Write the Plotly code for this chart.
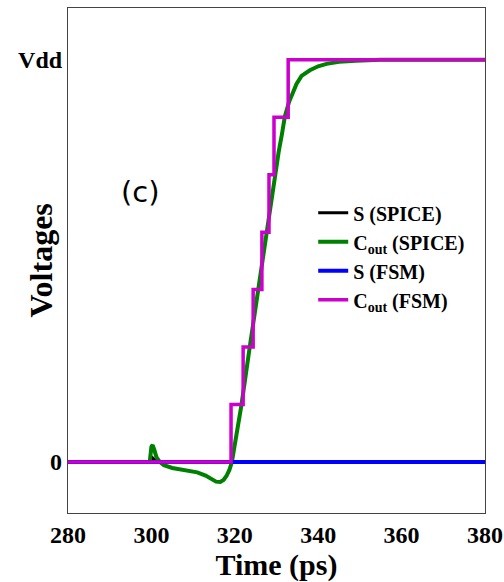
import plotly.graph_objects as go

# SPICE output voltage (normalised to Vdd)
t_cout_spice = [280, 299.6, 300.0, 300.3, 300.7, 301.2, 302, 303, 305, 308, 311, 313, 314.5, 315.5,
                316.5, 317.3, 318, 318.7, 319.3, 320, 321, 321.6, 323.6, 325.6, 327.6, 329.5, 330.5,
                331.3, 332, 333, 334, 334.8, 336, 338, 340, 342, 345, 349, 355, 380]
v_cout_spice = [0, 0, 0.038, 0.042, 0.03, 0.012, 0.0, -0.008, -0.015, -0.02, -0.026, -0.034, -0.044, -0.049,
                -0.05, -0.045, -0.035, -0.02, 0, 0.04, 0.105, 0.142, 0.287, 0.432, 0.575, 0.71, 0.77,
                0.815, 0.859, 0.895, 0.922, 0.94, 0.96, 0.974, 0.984, 0.99, 0.995, 0.998, 1.0, 1.0]

# S (SPICE)
t_s_spice = [280, 299.6, 300.3, 301.2, 380]
v_s_spice = [0, 0, 0.01, 0, 0]

# S (FSM)
t_s_fsm = [280, 380]
v_s_fsm = [0, 0]

# FSM output (stepwise)
t_cout_fsm = [280, 319.1, 322, 324.4, 326.5, 328.2, 329.4, 332.8, 380]
v_cout_fsm = [0, 0.143, 0.286, 0.429, 0.571, 0.714, 0.857, 1.0, 1.0]

x_ticks = [280, 300, 320, 340, 360, 380]
y_tickvals = [0, 1]
y_ticktext = ["0", "Vdd"]

serif = "Liberation Serif"

fig = go.Figure()
fig.add_trace(go.Scatter(x=t_s_spice, y=v_s_spice, mode="lines", name="S (SPICE)",
                         line=dict(color="black", width=3)))
fig.add_trace(go.Scatter(x=t_cout_spice, y=v_cout_spice, mode="lines", name="C<sub>out</sub> (SPICE)",
                         line=dict(color="#008000", width=4)))
fig.add_trace(go.Scatter(x=t_s_fsm, y=v_s_fsm, mode="lines", name="S (FSM)",
                         line=dict(color="#0000ff", width=4)))
fig.add_trace(go.Scatter(x=t_cout_fsm, y=v_cout_fsm, mode="lines", name="C<sub>out</sub> (FSM)",
                         line=dict(color="#cc00cc", width=3.5, shape="hv")))

fig.update_layout(
    width=504, height=582,
    margin=dict(l=68, r=19, t=8, b=69),
    paper_bgcolor="white", plot_bgcolor="white",
    font=dict(family=serif, color="black", size=18, weight="bold"),
    legend=dict(x=0.588, y=0.633, xanchor="left", yanchor="top",
                bgcolor="rgba(0,0,0,0)", font=dict(size=20, family=serif, weight="bold"),
                tracegroupgap=0),
    showlegend=True,
    annotations=[
        dict(text="(c)", x=0.173, y=0.636, xref="paper", yref="paper", xanchor="center", yanchor="middle",
             showarrow=False, font=dict(family="DejaVu Sans", size=29, color="black", weight="normal")),
        dict(text="Voltages", x=-0.067, y=0.5, xref="paper", yref="paper", textangle=-90,
             xanchor="center", yanchor="middle",
             showarrow=False, font=dict(family=serif, size=32, color="black", weight="bold")),
    ],
)
fig.update_xaxes(range=[280, 380], tickvals=x_ticks, showgrid=False, zeroline=False, automargin=False,
                 showline=True, mirror=True, linecolor="#444", linewidth=1.2,
                 ticks="", tickfont=dict(size=24, family=serif, weight="bold"),
                 title=dict(text="Time (ps)", font=dict(size=30, family=serif, weight="bold"), standoff=0))
fig.update_yaxes(range=[-0.127, 1.129], tickvals=y_tickvals, ticktext=y_ticktext, showgrid=False,
                 zeroline=False, showline=True, mirror=True, linecolor="#444", linewidth=1.2, automargin=False,
                 ticks="", tickfont=dict(size=24, family=serif, weight="bold"))

fig.write_html("out.html", config={"displayModeBar": False},
               post_script="document.body.style.margin='0';")
